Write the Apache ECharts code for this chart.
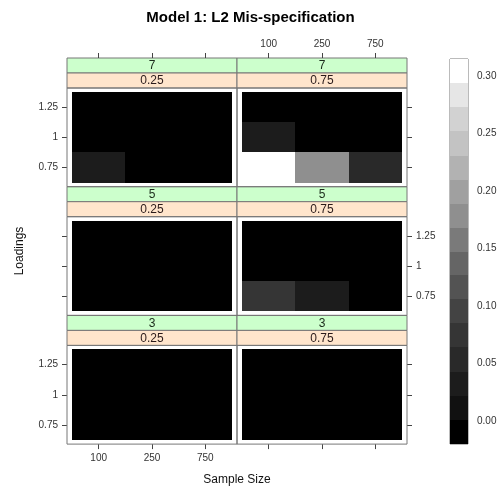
<!DOCTYPE html>
<html><head><meta charset="utf-8">
<script src="https://cdn.jsdelivr.net/npm/echarts@6/dist/echarts.min.js"></script>
<style>html,body{margin:0;padding:0;background:#fff}#c{width:501px;height:494px}</style>
</head><body><div id="c"></div>
<script>
// ---- data ----
const sampleSizes = ['100', '250', '750'];
const loadings = ['0.75', '1', '1.25'];
const factorLevels = ['7', '5', '3'];        // top to bottom
const propLevels = ['0.25', '0.75'];         // left to right
// rows: loading 0.75, 1, 1.25 ; columns: n = 100, 250, 750
const f7_p025 = [[0.025, -0.003, -0.008], [-0.006, -0.010, -0.012], [-0.009, -0.013, -0.015]];
const f7_p075 = [[0.312, 0.172, 0.050], [0.030, -0.004, -0.010], [-0.007, -0.012, -0.016]];
const f5_p025 = [[-0.002, -0.009, -0.013], [-0.008, -0.012, -0.015], [-0.011, -0.015, -0.018]];
const f5_p075 = [[0.070, 0.030, -0.006], [-0.005, -0.011, -0.014], [-0.010, -0.014, -0.017]];
const f3_p025 = [[-0.010, -0.014, -0.017], [-0.013, -0.016, -0.018], [-0.015, -0.018, -0.020]];
const f3_p075 = [[-0.008, -0.013, -0.016], [-0.012, -0.015, -0.018], [-0.014, -0.017, -0.019]];
const colorBreaks = [-0.020, 0.001, 0.022, 0.043, 0.064, 0.085, 0.106, 0.127, 0.147, 0.168, 0.189, 0.210, 0.231, 0.252, 0.273, 0.294, 0.315];
const colorTicks = [0.00, 0.05, 0.10, 0.15, 0.20, 0.25, 0.30];
const grayLevels = ['#000000', '#111111', '#1c1c1c', '#292929', '#353535', '#434343', '#535353', '#656565',
  '#7a7a7a', '#8f8f8f', '#a0a0a0', '#b2b2b2', '#c3c3c3', '#d2d2d2', '#e6e6e6', '#ffffff'];

const panels = [[f7_p025, f7_p075], [f5_p025, f5_p075], [f3_p025, f3_p075]];

// ---- layout ----
const FONT = 'Liberation Sans, Arial, sans-serif';
const colX = [67, 237], colW = 170;
const rowTop0 = 58, rowH = 128.7, stripH = 15;
const padX = 5, padY = 4;
const frameCol = '#777777';

const grids = [], xAxes = [], yAxes = [], series = [], graphics = [];
let gi = 0;
for (let r = 0; r < 3; r++) {
  for (let c = 0; c < 2; c++) {
    const x0 = colX[c];
    const top = rowTop0 + r * rowH;
    const frameTop = top + 2 * stripH;
    const frameH = rowH - 2 * stripH;
    const innerTop = frameTop + padY;
    grids.push({left: x0 + padX, top: innerTop, width: colW - 2 * padX, height: frameH - 2 * padY,
      outerBoundsMode: 'none', containLabel: false});
    xAxes.push({
      type: 'category', data: sampleSizes, gridIndex: gi,
      position: r === 0 ? 'top' : 'bottom',
      offset: r === 0 ? (innerTop - top) : padY,
      show: r !== 1,
      axisLine: {show: false},
      axisTick: {show: true, alignWithLabel: true, length: 5, lineStyle: {color: '#444'}},
      axisLabel: {show: (r === 0 && c === 1) || (r === 2 && c === 0), fontSize: 10, color: '#333', fontFamily: FONT, margin: 9},
      splitLine: {show: false}, splitArea: {show: false}
    });
    yAxes.push({
      type: 'category', data: loadings, gridIndex: gi,
      position: c === 0 ? 'left' : 'right',
      offset: padX,
      axisLine: {show: false},
      axisTick: {show: true, alignWithLabel: true, length: 5, lineStyle: {color: '#444'}},
      axisLabel: {show: c === 0 ? r !== 1 : r === 1, fontSize: 10, color: '#333', fontFamily: FONT, margin: 9},
      splitLine: {show: false}, splitArea: {show: false}
    });
    const m = panels[r][c];
    const data = [];
    for (let li = 0; li < loadings.length; li++)
      for (let si = 0; si < sampleSizes.length; si++) data.push([si, li, m[li][si]]);
    series.push({type: 'custom', xAxisIndex: gi, yAxisIndex: gi, data: data, silent: true,
      encode: {x: 0, y: 1},
      renderItem: function (params, api) {
        const ctr = api.coord([api.value(0), api.value(1)]);
        const sz = api.size([1, 1]);
        const col = api.visual('color');
        const xa = Math.round(ctr[0] - sz[0] / 2), xb = Math.round(ctr[0] + sz[0] / 2);
        const ya = Math.round(ctr[1] - sz[1] / 2), yb = Math.round(ctr[1] + sz[1] / 2);
        return {type: 'rect',
          shape: {x: xa, y: ya, width: xb - xa, height: yb - ya},
          style: {fill: col, stroke: null}};
      }});
    // strips + frame
    graphics.push({type: 'rect', shape: {x: x0, y: top, width: colW, height: stripH},
      style: {fill: '#ccffcc', stroke: frameCol, lineWidth: 1}});
    graphics.push({type: 'rect', shape: {x: x0, y: top + stripH, width: colW, height: stripH},
      style: {fill: '#ffe5cc', stroke: frameCol, lineWidth: 1}});
    graphics.push({type: 'text', x: x0 + colW / 2, y: top + stripH / 2 + 0.5,
      style: {text: factorLevels[r], fill: '#1a2a1a', fontSize: 12, fontFamily: FONT, align: 'center', verticalAlign: 'middle'}});
    graphics.push({type: 'text', x: x0 + colW / 2, y: top + 1.5 * stripH + 0.5,
      style: {text: propLevels[c], fill: '#2a1a1a', fontSize: 12, fontFamily: FONT, align: 'center', verticalAlign: 'middle'}});
    graphics.push({type: 'rect', shape: {x: x0, y: frameTop, width: colW, height: frameH},
      style: {fill: 'none', stroke: frameCol, lineWidth: 1}, z: 10});
    gi++;
  }
}

// colour key
const keyIdx = gi;
grids.push({left: 450, top: 59, width: 18, height: 385, show: true, borderColor: frameCol, borderWidth: 1,
  backgroundColor: 'transparent', outerBoundsMode: 'none', containLabel: false});
xAxes.push({type: 'value', gridIndex: keyIdx, min: 0, max: 1, show: false});
yAxes.push({type: 'value', gridIndex: keyIdx, min: colorBreaks[0], max: colorBreaks[colorBreaks.length - 1],
  position: 'right', axisLine: {show: false}, splitLine: {show: false},
  axisTick: {show: true, length: 5, customValues: colorTicks, lineStyle: {color: '#444'}},
  axisLabel: {show: true, customValues: colorTicks, formatter: v => v.toFixed(2), fontSize: 10, color: '#333', fontFamily: FONT, margin: 9}});
const keyData = grayLevels.map((col, i) => [i, colorBreaks[i], colorBreaks[i + 1]]);
series.push({type: 'custom', xAxisIndex: keyIdx, yAxisIndex: keyIdx, data: keyData, silent: true,
  encode: {y: [1, 2]},
  renderItem: function (params, api) {
    const p0 = api.coord([0, api.value(1)]);
    const p1 = api.coord([1, api.value(2)]);
    const col = grayLevels[api.value(0)];
    const ya = Math.round(p1[1]), yb = Math.round(p0[1]);
    return {type: 'rect', shape: {x: p0[0], y: ya, width: p1[0] - p0[0], height: yb - ya},
      style: {fill: col, stroke: null}};
  }});

const pieces = grayLevels.map((col, i) => ({gte: i === 0 ? -10 : colorBreaks[i], lt: i === grayLevels.length - 1 ? 10 : colorBreaks[i + 1], color: col}));

graphics.push({type: 'text', x: 237, y: 480, style: {text: 'Sample Size', fill: '#111', fontSize: 12, fontFamily: FONT, align: 'center', verticalAlign: 'middle'}});
graphics.push({type: 'text', x: 20, y: 251, rotation: Math.PI / 2, style: {text: 'Loadings', fill: '#111', fontSize: 12, fontFamily: FONT, align: 'center', verticalAlign: 'middle'}});

const chart = echarts.init(document.getElementById('c'), null, {renderer: 'canvas'});
chart.setOption({
  animation: false,
  backgroundColor: '#ffffff',
  title: {text: 'Model 1: L2 Mis-specification', left: 'center', top: 5,
    textStyle: {fontSize: 15, fontWeight: 'bold', color: '#000', fontFamily: FONT}},
  grid: grids, xAxis: xAxes, yAxis: yAxes,
  visualMap: {type: 'piecewise', show: false, dimension: 2, seriesIndex: [0, 1, 2, 3, 4, 5], pieces: pieces},
  series: series,
  graphic: graphics
});
</script></body></html>
